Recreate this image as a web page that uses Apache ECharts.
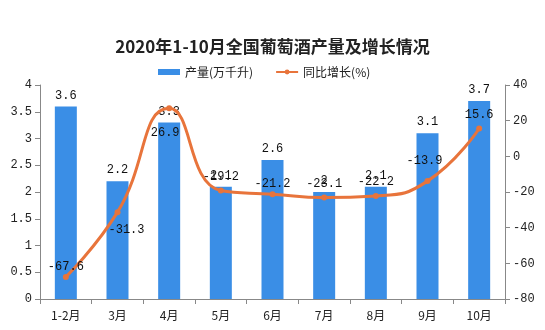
<!DOCTYPE html>
<html><head><meta charset="utf-8">
<script src="https://cdn.jsdelivr.net/npm/echarts@6/dist/echarts.min.js"></script>
<style>html,body{margin:0;padding:0;background:#fff}#c{width:545px;height:330px}</style>
</head><body><div id="c"></div>
<script>
var categories = ['1-2月','3月','4月','5月','6月','7月','8月','9月','10月'];
var output = [3.6, 2.2, 3.3, 2.1, 2.6, 2, 2.1, 3.1, 3.7];
var growth = [-67.6, -31.3, 26.9, -19.2, -21.2, -23.1, -22.2, -13.9, 15.6];
var growthLabelPos = ['top','bottom','bottom','top','top','top','top','top','top'];
var growthLabelOffset = [[0,4],[9,4],[-4,10],[0,0],[0,4],[0,0],[0,0],[-3,-6],[0,0]];

var chart = echarts.init(document.getElementById('c'));
var monoFont = '"Liberation Mono", "DejaVu Sans Mono", monospace';
var cjk = '"Noto Sans CJK SC", sans-serif';
chart.setOption({
  backgroundColor: '#fff',
  animation: false,
  title: {
    text: '2020年1-10月全国葡萄酒产量及增长情况',
    left: 'center', top: 33,
    textStyle: {fontFamily: '"Noto Sans CJK SC", serif', fontWeight: 'bold', fontSize: 17, color: '#222'}
  },
  legend: {
    top: 61, left: 153, itemGap: 22, itemWidth: 22, itemHeight: 6,
    textStyle: {fontFamily: cjk, fontSize: 12, color: '#222'},
    data: [{name: '产量(万千升)', icon: 'rect'}, {name: '同比增长(%)'}]
  },
  grid: {left: 40, right: 40, top: 85, bottom: 31},
  xAxis: {
    type: 'category', data: categories,
    axisLine: {lineStyle: {color: '#888'}},
    axisTick: {show: true, alignWithLabel: false, lineStyle: {color: '#888'}},
    axisLabel: {color: '#222', fontFamily: cjk, fontSize: 12, margin: 10}
  },
  yAxis: [{
    type: 'value', min: 0, max: 4, interval: 0.5,
    splitLine: {show: false},
    axisLine: {show: true, lineStyle: {color: '#888'}},
    axisTick: {show: true, lineStyle: {color: '#888'}},
    axisLabel: {color: '#222', fontFamily: monoFont, fontSize: 12}
  }, {
    type: 'value', min: -80, max: 40, interval: 20,
    splitLine: {show: false},
    axisLine: {show: true, lineStyle: {color: '#888'}},
    axisTick: {show: true, lineStyle: {color: '#888'}},
    axisLabel: {color: '#222', fontFamily: monoFont, fontSize: 12}
  }],
  series: [{
    name: '产量(万千升)', type: 'bar', data: output, barWidth: 22,
    itemStyle: {color: '#3a8ee6'},
    label: {show: true, position: 'top', color: '#111', fontFamily: monoFont, fontSize: 12}
  }, {
    name: '同比增长(%)', type: 'line', yAxisIndex: 1, smooth: true,
    data: growth.map(function(v, i){ return {value: v, label: {position: growthLabelPos[i], offset: growthLabelOffset[i]}}; }),
    symbol: 'circle', symbolSize: 6,
    lineStyle: {color: '#e8743b', width: 3},
    itemStyle: {color: '#e8743b'},
    label: {show: true, color: '#111', fontFamily: monoFont, fontSize: 12}
  }]
});
</script></body></html>
